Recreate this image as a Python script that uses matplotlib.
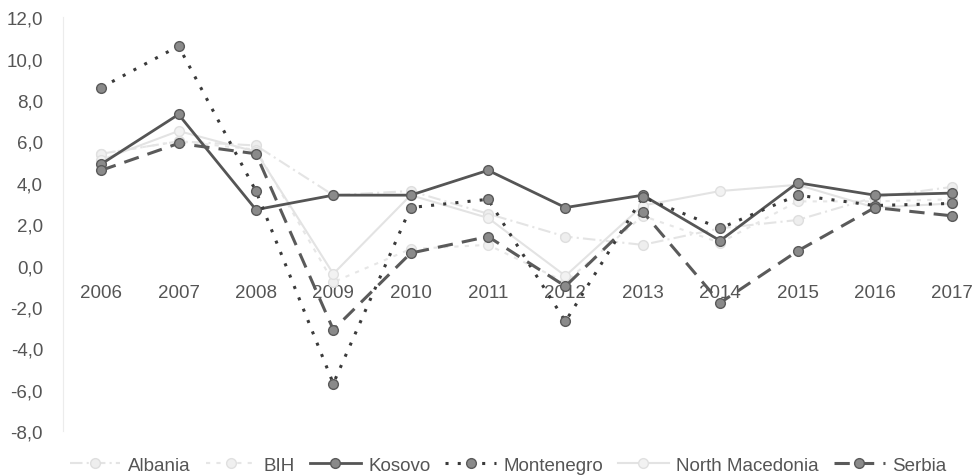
import matplotlib.pyplot as plt
from matplotlib.ticker import FuncFormatter

plt.rcParams['font.family'] = ['Liberation Sans', 'DejaVu Sans']

years = [2006, 2007, 2008, 2009, 2010, 2011, 2012, 2013, 2014, 2015, 2016, 2017]

# GDP growth by country
albania = [5.4, 6.0, 5.8, 3.4, 3.6, 2.5, 1.4, 1.0, 1.8, 2.2, 3.3, 3.8]
bih = [5.4, 6.0, 5.6, -0.8, 0.8, 1.0, -0.8, 2.4, 1.1, 3.1, 3.1, 3.2]
kosovo = [4.9, 7.3, 2.7, 3.4, 3.4, 4.6, 2.8, 3.4, 1.2, 4.0, 3.4, 3.5]
montenegro = [8.6, 10.6, 3.6, -5.7, 2.8, 3.2, -2.7, 3.3, 1.8, 3.4, 2.9, 3.0]
north_macedonia = [5.1, 6.5, 5.5, -0.4, 3.4, 2.3, -0.5, 2.9, 3.6, 3.9, 2.8, 3.0]
serbia = [4.6, 5.9, 5.4, -3.1, 0.6, 1.4, -1.0, 2.6, -1.8, 0.7, 2.8, 2.4]

fig = plt.figure(figsize=(9.77, 4.77), dpi=100)
ax = fig.add_axes([0.064, 0.094, 0.936, 0.868])

marker_kw = dict(marker='o', markersize=7)

ax.plot(years, albania, color='#e4e4e4', lw=1.5, linestyle=(0, (6, 2, 1, 2)),
        markerfacecolor='#eeeeee', markeredgecolor='#dedede', label='Albania', **marker_kw)
ax.plot(years, bih, color='#e6e6e6', lw=1.5, linestyle=(0, (2, 3)),
        markerfacecolor='#f0f0f0', markeredgecolor='#e0e0e0', label='BIH', **marker_kw)
ax.plot(years, north_macedonia, color='#e3e3e3', lw=1.5, linestyle='-',
        markerfacecolor='#f2f2f2', markeredgecolor='#e0e0e0', label='North Macedonia', **marker_kw)
ax.plot(years, kosovo, color='#555555', lw=2, linestyle='-',
        markerfacecolor='#8a8a8a', markeredgecolor='#5a5a5a', label='Kosovo', **marker_kw)
ax.plot(years, montenegro, color='#3a3a3a', lw=2.2, linestyle=(0, (1, 3)),
        markerfacecolor='#8a8a8a', markeredgecolor='#5a5a5a', label='Montenegro', **marker_kw)
ax.plot(years, serbia, color='#5a5a5a', lw=2.2, linestyle=(0, (5, 3)),
        markerfacecolor='#8a8a8a', markeredgecolor='#5a5a5a', label='Serbia', **marker_kw)

ax.set_xlim(2005.5, 2017.32)
ax.set_ylim(-8, 12)
ax.set_yticks(range(-8, 13, 2))
ax.yaxis.set_major_formatter(FuncFormatter(lambda v, p: f'{v:.1f}'.replace('.', ',')))
ax.set_xticks(years)

ax.spines['bottom'].set_position(('data', 0))
ax.spines['bottom'].set_visible(False)
ax.spines['top'].set_visible(False)
ax.spines['right'].set_visible(False)
ax.spines['left'].set_color('#ececec')
ax.tick_params(axis='x', length=0, pad=13, labelsize=13.5, labelcolor='#555555')
ax.tick_params(axis='y', length=0, pad=14, labelsize=13.5, labelcolor='#555555')

handles, labels = ax.get_legend_handles_labels()
order = ['Albania', 'BIH', 'Kosovo', 'Montenegro', 'North Macedonia', 'Serbia']
hmap = dict(zip(labels, handles))
fig.legend([hmap[k] for k in order], order, loc='center', bbox_to_anchor=(0.52, 0.023),
           ncol=6, frameon=False, fontsize=13.5, labelcolor='#555555',
           handlelength=2.7, columnspacing=0.8, handletextpad=0.4, borderpad=0)

fig.savefig('out.png', dpi=100)
